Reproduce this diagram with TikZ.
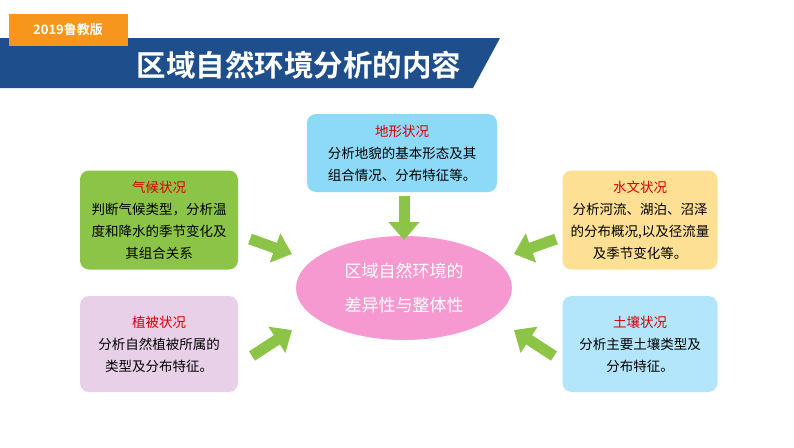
\documentclass[tikz,border=0pt]{standalone}
\usepackage{fontspec}
\setmainfont{Noto Sans CJK SC}
\newfontfamily\cjkb{Noto Sans CJK SC Bold}
\usetikzlibrary{shapes.geometric,arrows.meta}
\definecolor{navy}{HTML}{1F4E8C}
\definecolor{org}{HTML}{F7961D}
\definecolor{arr}{HTML}{8CC448}
\tikzset{
 card/.style={rounded corners=9pt,minimum width=#1,align=center,inner sep=2pt,font=\fontsize{13.5}{22}\selectfont},
 fat/.style={draw=arr,line width=11pt,-{Triangle[width=30pt,length=18pt]}}
}
\begin{document}
\begin{tikzpicture}[x=1pt,y=-1pt]
\useasboundingbox (0,0) rectangle (794,447);
\fill[navy] (0,38) -- (500,38) -- (473,88) -- (0,88) -- cycle;
\node[fill=org,minimum width=119pt,minimum height=32pt,text=white,font=\cjkb\fontsize{13}{13}\selectfont] (ver) at (68,30) {2019鲁教版};
\node[text=white,font=\cjkb\fontsize{29.5}{30}\selectfont] (title) at (299,65) {区域自然环境分析的内容};
\node[card=190pt,fill=cyan!45,minimum height=78pt] (dx) at (402,153) {\textcolor{red!85!black}{地形状况}\\分析地貌的基本形态及其\\组合情况、分布特征等。};
\node[card=158pt,fill=arr,minimum height=99pt] (qh) at (159,220) {\textcolor{red!85!black}{气候状况}\\判断气候类型，分析温\\度和降水的季节变化及\\其组合关系};
\node[card=155pt,fill=yellow!45!orange!40,minimum height=99pt] (sw) at (640,220) {\textcolor{red!85!black}{水文状况}\\分析河流、湖泊、沼泽\\的分布概况,以及径流量\\及季节变化等。};
\node[card=158pt,fill=violet!18,minimum height=96pt] (zb) at (159,344) {\textcolor{red!85!black}{植被状况}\\分析自然植被所属的\\类型及分布特征。};
\node[card=155pt,fill=cyan!30,minimum height=96pt] (tr) at (640,344) {\textcolor{red!85!black}{土壤状况}\\分析主要土壤类型及\\分布特征。};
\node[ellipse,fill=magenta!40,minimum width=216pt,minimum height=104pt,text=white,align=center,font=\fontsize{17}{34}\selectfont] (c) at (404,288) {区域自然环境的\\差异性与整体性};
\coordinate (s1) at (404,196); \coordinate (e1) at (404,240);
\coordinate (s2) at (250,239); \coordinate (e2) at (292,254);
\coordinate (s3) at (556,239); \coordinate (e3) at (514,254);
\coordinate (s4) at (252,356); \coordinate (e4) at (292,330);
\coordinate (s5) at (554,356); \coordinate (e5) at (514,330);
\foreach \i in {1,...,5} \draw[fat] (s\i) -- (e\i);
\end{tikzpicture}
\end{document}
